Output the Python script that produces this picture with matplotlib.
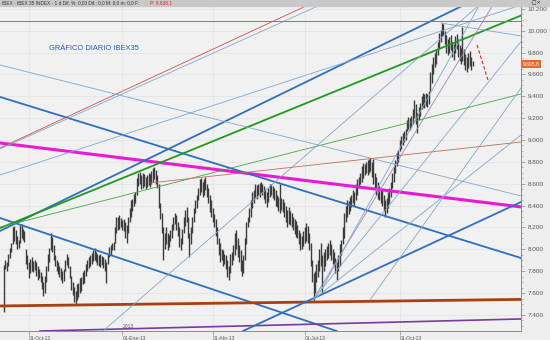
import matplotlib
matplotlib.use("Agg")
import matplotlib.pyplot as plt
import numpy as np

# ---------------- data ----------------
lo = [
7430,7820,7800,7850,7920,7980,8050,8080,8050,8000,
8010,8060,8100,8090,8070,7870,7820,7740,7780,7800,
7790,7810,7760,7720,7740,7700,7640,7570,7600,7700,
7800,7880,7990,7980,7900,7850,7800,7770,7750,7720,
7690,7710,7800,7860,7830,7740,7630,7580,7520,7500,
7540,7560,7600,7620,7680,7690,7760,7800,7830,7850,
7870,7890,7900,7880,7860,7850,7840,7860,7830,7800,
7690,7870,7930,7950,7990,7990,8060,8150,8180,8190,
8200,8180,8170,8100,8060,8150,8250,8300,8350,8400,
8420,8500,8580,8600,8550,8560,8580,8550,8570,8590,
8570,8600,8620,8640,8600,8560,8380,8280,8150,7900,
8000,8050,7990,8020,8080,8100,8180,8230,8180,8120,
8020,7990,8050,8150,8210,8250,8100,7930,8050,8150,
8250,8330,8380,8450,8500,8520,8480,8500,8540,8480,
8420,8340,8300,8250,8200,8120,8050,7950,7880,7900,
7850,7870,7820,7750,7720,7780,7860,7900,7950,8000,
7930,7880,7800,7760,7780,7900,8050,8200,8250,8300,
8380,8420,8480,8460,8500,8480,8520,8500,8460,8420,
8390,8430,8480,8500,8470,8450,8400,8390,8350,8330,
8360,8340,8300,8250,8200,8230,8220,8200,8180,8140,
8110,8100,8050,7990,8000,8030,8060,8080,8060,7990,
7850,7700,7540,7600,7700,7750,7800,7850,7600,7800,
7850,7900,7920,7950,7900,7870,7850,7780,7720,7800,
7850,7950,8050,8100,8250,8300,8320,8350,8390,8420,
8400,8450,8500,8560,8600,8620,8650,8680,8700,8680,
8700,8720,8660,8600,8550,8500,8460,8450,8420,8400,
8350,8300,8330,8380,8420,8480,8560,8620,8700,8760,
8800,8900,8920,8950,8980,9000,9080,9100,9090,9120,
9150,9200,9150,9060,9180,9220,9280,9300,9290,9310,
9300,9330,9450,9520,9600,9670,9700,9780,9830,9900,
9950,9960,9880,9800,9780,9800,9820,9760,9730,9800,
9830,9760,9720,9700,9720,9690,9640,9620,9660,9680,
9640,9680]
hi = [
7860,7900,7880,7960,8010,8060,8200,8210,8180,8120,
8090,8220,8230,8190,8170,8000,7950,7880,7910,7930,
7890,7900,7880,7850,7820,7790,7760,7700,7760,7850,
7960,8010,8150,8110,8040,7950,7900,7880,7850,7830,
7800,7820,7900,7960,7930,7850,7760,7700,7660,7620,
7680,7690,7740,7750,7790,7810,7870,7900,7930,7950,
7970,7990,8010,7980,7960,7950,7960,7940,7930,7910,
7880,7960,8020,8040,8060,8070,8200,8300,8300,8310,
8290,8270,8280,8250,8220,8300,8380,8450,8460,8510,
8520,8650,8700,8710,8680,8700,8690,8660,8680,8700,
8690,8720,8740,8750,8730,8680,8600,8420,8330,8200,
8150,8200,8150,8130,8180,8230,8300,8330,8310,8250,
8200,8100,8190,8300,8360,8390,8300,8150,8200,8300,
8380,8450,8500,8560,8640,8650,8620,8640,8660,8600,
8560,8500,8450,8380,8320,8280,8200,8100,8060,8000,
7990,7960,7950,7900,7850,7960,7980,8040,8150,8180,
8100,8040,7990,7900,7950,8100,8250,8300,8380,8450,
8520,8540,8600,8590,8600,8610,8620,8600,8580,8550,
8520,8560,8600,8600,8580,8560,8540,8500,8480,8600,
8470,8460,8430,8400,8360,8390,8350,8330,8300,8280,
8260,8220,8180,8150,8120,8170,8200,8240,8210,8150,
8060,7900,7780,7800,7870,7900,8000,8060,7950,7980,
8000,8030,8060,8090,8050,8000,7980,7920,7880,7950,
8050,8090,8200,8330,8400,8450,8440,8480,8500,8540,
8520,8600,8640,8660,8700,8760,8790,8780,8800,8820,
8830,8840,8800,8830,8700,8660,8620,8580,8560,8540,
8500,8450,8470,8520,8560,8620,8700,8750,8820,8880,
8910,9000,9040,9060,9080,9100,9180,9210,9200,9220,
9280,9370,9330,9250,9300,9340,9400,9430,9420,9430,
9420,9450,9620,9700,9760,9800,9820,9900,9980,10010,
10070,10060,10000,9960,9920,9940,9960,9900,9880,9950,
9970,9920,9870,9840,10030,9830,9790,9760,9800,9810,
9760,9720]
last_price = 9695.8

# month ticks (trading-day index of first session) and labels
tick_bars = [17, 81, 143, 206, 271]
tick_labels = ["01-Oct-12", "01-Ene-13", "01-Abr-13", "01-Jul-13", "01-Oct-13"]
y_ticks = [7400, 7600, 7800, 8000, 8200, 8400, 8600, 8800, 9000, 9200,
           9400, 9600, 9800, 10000, 10200]

# trend lines (bar index, value) pairs, drawn through whole chart
full_lines = {
    "magenta":  ((-2.7, 8973), (354.1, 8388)),
    "blue_b":   ((-2.7, 8287), (170.5, 7510)),
    "blue_c":   ((-2.7, 9394), (354.1, 7921)),
    "blue_d":   ((-2.7, 8168), (312.3, 10217)),
    "green":    ((11, 8269), (354.1, 10139)),
    "green_t":  ((11, 8250), (354.1, 9421)),
    "lb_h":     ((-2.7, 8680), (350, 10217)),
    "red_t":    ((-2.7, 8927), (185, 10091)),
    "lb_i":     ((-2.7, 8918), (215, 10226)),
    "lb_l":     ((-2.7, 9686), (354.1, 8488)),
    "brown":    ((-2.7, 7482), (354.1, 7542)),
    "purple":   ((24.7, 7253), (354.1, 7363)),
    "blue_j":   ((163.7, 7253), (354.1, 8433)),
    "lb_p":     ((67.8, 7253), (185.6, 8616)),
}
# rays: start point and a second point they pass through
rays = {
    "brown_t":  ((100, 8607), (354.1, 8982)),
    "lb_m":     ((299.3, 10070), (354.1, 9952)),
    "purp_q1":  ((211.6, 7537), (331.5, 10162)),
    "lb_q2":    ((211.6, 7537), (332.9, 9549)),
    "lb_q3":    ((216.4, 7610), (271.2, 8927)),
    "lb_r1":    ((250.7, 7537), (354.1, 9476)),
    "lb_r2":    ((211.6, 7537), (354.1, 9046)),
}
hline_val = 10089
red_dash = ((324, 9869), (331.5, 9549))

# ---------------- styles ----------------
LB = "#7fa8cc"
BL = "#2f6fbf"
styles = {
    "magenta": ("#e81ad8", 2.2), "blue_b": (BL, 1.3), "blue_c": (BL, 1.3),
    "blue_d": (BL, 1.3), "green": ("#1c9c1c", 1.3), "green_t": ("#4a9e4a", 0.6),
    "lb_h": (LB, 0.6), "red_t": ("#d44a4a", 0.6), "lb_i": (LB, 0.6),
    "lb_l": (LB, 0.6), "brown": ("#a8400f", 2.0), "purple": ("#7a3aa0", 1.2),
    "blue_j": (BL, 1.3), "lb_p": (LB, 0.6), "brown_t": ("#b8705a", 0.6),
    "lb_m": (LB, 0.6), "purp_q1": ("#9a86b8", 0.6), "lb_q2": (LB, 0.6),
    "lb_q3": (LB, 0.6), "lb_r1": (LB, 0.6), "lb_r2": (LB, 0.6),
}

plt.rcParams["font.family"] = ["Liberation Sans", "DejaVu Sans"]
fig = plt.figure(figsize=(5.5, 3.4), dpi=100, facecolor="#eeeeee")
ax = fig.add_axes([0, 9 / 340, 521 / 550, 325 / 340])
ax.set_facecolor("#f1f1f1")
ax.set_xlim(-2.74, 354.1)
ax.set_ylim(7253, 10226)

for v in y_ticks:
    ax.axhline(v, color="#e2e2e2", lw=0.5, zorder=0)
for b in tick_bars:
    ax.axvline(b, color="#e2e2e2", lw=0.5, zorder=0)

x = np.arange(len(lo))
ax.vlines(x, lo, hi, color="#3c3c3c", lw=1.0, zorder=3)

for name, (p1, p2) in full_lines.items():
    c, w = styles[name]
    ax.axline(p1, p2, color=c, lw=w, zorder=4)
for name, (p1, p2) in rays.items():
    c, w = styles[name]
    p1 = np.array(p1); p2 = np.array(p2)
    p3 = p1 + (p2 - p1) * 5
    ax.plot([p1[0], p3[0]], [p1[1], p3[1]], color=c, lw=w, zorder=4)
ax.axhline(hline_val, color="#c8604e", lw=0.7, zorder=4)
ax.plot([red_dash[0][0], red_dash[1][0]], [red_dash[0][1], red_dash[1][1]],
        color="#e02020", lw=0.8, ls=(0, (3, 2)), zorder=5)

ax.text(30.8, 9837, "GRÁFICO DIARIO IBEX35", color="#2f50cc", fontsize=5.4,
        ha="left", va="center", zorder=6)
ax.text(81, 7290, "2013", color="#555555", fontsize=3.6, ha="left", va="center")

# axes styling
for s in ["left", "top"]:
    ax.spines[s].set_visible(False)
ax.spines["right"].set_color("#8a8a8a")
ax.spines["bottom"].set_color("#8a8a8a")
ax.spines["right"].set_linewidth(0.7)
ax.spines["bottom"].set_linewidth(0.7)
ax.yaxis.tick_right()
ax.set_yticks(y_ticks)
ax.set_yticklabels([f"{v:,}".replace(",", ".") for v in y_ticks])
ax.set_yticks(np.arange(7300, 10226, 50), minor=True)
ax.tick_params(axis="y", which="major", length=3, width=0.5, color="#8a8a8a",
               labelsize=4.6, labelcolor="#555555", pad=1.5)
ax.tick_params(axis="y", which="minor", length=1.2, width=0.4, color="#8a8a8a")
ax.set_xticks(tick_bars)
ax.set_xticklabels(tick_labels, ha="left")
ax.tick_params(axis="x", length=3, width=0.5, color="#8a8a8a", labelsize=3.6,
               labelcolor="#555555", pad=0.5)

# last price tag
ax.annotate(f"{last_price:,.1f}".replace(",", "X").replace(".", ",").replace("X", "."),
            xy=(1.003, last_price), xycoords=("axes fraction", "data"),
            ha="left", va="center", fontsize=3.6, color="white",
            bbox=dict(boxstyle="square,pad=0.25", fc="#e8672c", ec="none"),
            annotation_clip=False)

# title strip
fig.patches.append(plt.Rectangle((0, 1 - 6 / 340), 1, 6 / 340, transform=fig.transFigure,
                                 color="#c9c9c9", zorder=0))
fig.text(0.004, 1 - 3 / 340,
         "IBEX - IBEX 35 INDEX - 1 d Dif. %: 0,00 Dif.: 0,0 M: 0,0 m: 0,0 F:",
         fontsize=3.4, color="#333333", ha="left", va="center")
fig.text(0.272, 1 - 3 / 340, "P: 9.838,1", fontsize=3.4, color="#e02020",
         ha="left", va="center")
fig.text(0.985, 1 - 3 / 340, "-□×", fontsize=3.6, color="#333333",
         ha="right", va="center", family=["DejaVu Sans"])

fig.savefig("out.png", dpi=100, facecolor=fig.get_facecolor())
